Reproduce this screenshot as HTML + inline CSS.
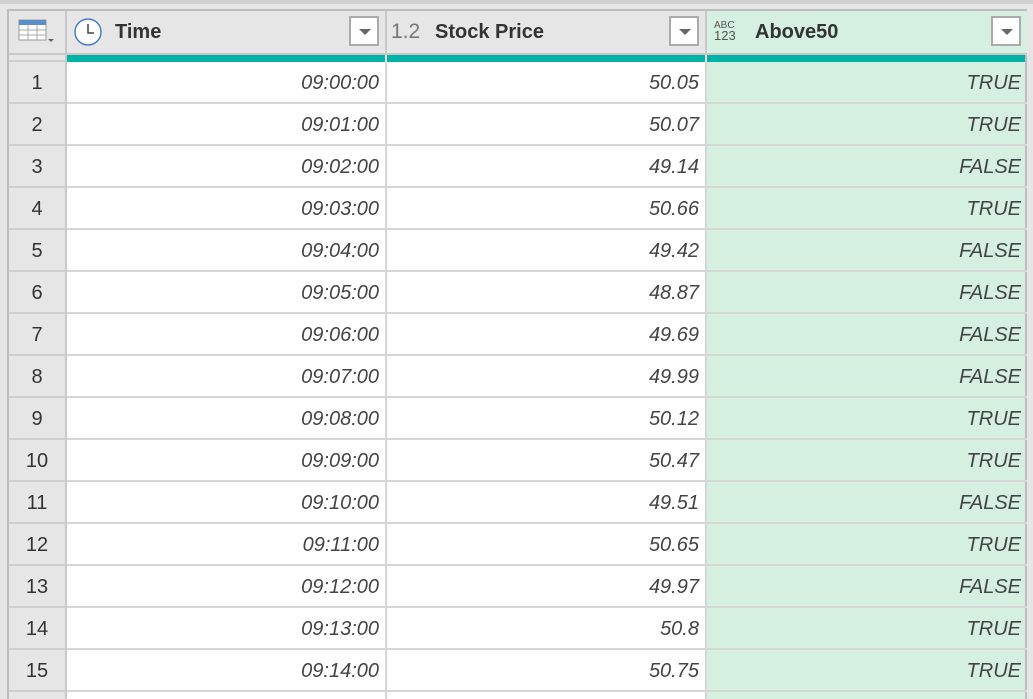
<!DOCTYPE html>
<html style="overflow:hidden;height:699px"><head><meta charset="utf-8"><style>
body{margin:0;width:1033px;height:699px;overflow:hidden;background:#e6e6e6;font-family:"Liberation Sans",sans-serif;position:relative}
.a{position:absolute;box-sizing:border-box}
.hd{top:11px;height:42px;background:#e6e6e6;border-right:2px solid #c8c8c8;font-weight:bold;font-size:20px;color:#333;line-height:42px}
.dd{position:absolute;right:6px;top:5px;width:30px;height:30px;background:#fff;border:2px solid #aaa;box-sizing:border-box}
.dd:after{content:"";position:absolute;left:8px;top:11px;border-left:6px solid transparent;border-right:6px solid transparent;border-top:6px solid #666}
.cell{height:42px;border-bottom:2px solid #d6d6d6;border-right:2px solid #d6d6d6;font-size:20px;font-style:italic;color:#444;text-align:right;padding-right:6px;line-height:42px;overflow:hidden}
.idx{height:42px;border-bottom:2px solid #cfcfcf;border-right:2px solid #c8c8c8;font-size:20px;color:#333;text-align:center;line-height:42px;background:#e6e6e6;overflow:hidden}
</style></head><body>
<div class="a" style="left:0;top:0;width:1033px;height:4px;background:#d0d0d0"></div>
<div class="a" style="left:7px;top:9px;width:1020px;height:690px;border:2px solid #bdbdbd;border-bottom:none;background:#fff"></div>
<div class="a hd" style="left:9px;width:58px">
<svg width="40" height="30" style="position:absolute;left:9px;top:8px"><rect x="1" y="1" width="27" height="20" fill="#fff" stroke="#999"/><rect x="1" y="1" width="27" height="5" fill="#5b8ec8"/><path d="M1 11H28M1 16H28M10 6V21M19 6V21" stroke="#aaa"/><path d="M30 20l3 3 3-3z" fill="#666"/></svg></div>
<div class="a hd" style="left:67px;width:320px"><svg width="32" height="32" style="position:absolute;left:5px;top:5px"><circle cx="16" cy="16" r="13" fill="#fff" stroke="#4a7fc0" stroke-width="1.5"/><path d="M16 8V17H22" stroke="#444" stroke-width="1.5" fill="none"/></svg><span style="position:absolute;left:48px">Time</span><div class="dd"></div></div>
<div class="a hd" style="left:387px;width:320px"><span style="position:absolute;left:4px;font-weight:normal;color:#777;font-size:21px">1.2</span><span style="position:absolute;left:48px">Stock Price</span><div class="dd"></div></div>
<div class="a hd" style="left:707px;width:320px;background:#d5efe0;border-right:none"><span style="position:absolute;left:7px;top:10px;font-size:10px;line-height:10px;font-weight:normal;color:#555">ABC<br><span style="font-size:13px">123</span></span><span style="position:absolute;left:48px">Above50</span><div class="dd"></div></div>
<div class="a" style="left:9px;top:53px;width:1018px;height:2px;background:#c8c8c8"></div>
<div class="a" style="left:9px;top:55px;width:58px;height:7px;background:#e6e6e6;border-right:2px solid #c8c8c8;border-bottom:2px solid #cfcfcf"></div>
<div class="a" style="left:67px;top:55px;width:318px;height:7px;background:#01b3a6"></div>
<div class="a" style="left:387px;top:55px;width:318px;height:7px;background:#01b3a6"></div>
<div class="a" style="left:707px;top:55px;width:318px;height:7px;background:#01b3a6"></div>
<div class="a" style="left:707px;top:62px;width:318px;height:637px;background:#d5efe0"></div>
<div id="rows"></div>
<script>
const times=["09:00:00","09:01:00","09:02:00","09:03:00","09:04:00","09:05:00","09:06:00","09:07:00","09:08:00","09:09:00","09:10:00","09:11:00","09:12:00","09:13:00","09:14:00"];
const prices=["50.05","50.07","49.14","50.66","49.42","48.87","49.69","49.99","50.12","50.47","49.51","50.65","49.97","50.8","50.75"];
const flags=["TRUE","TRUE","FALSE","TRUE","FALSE","FALSE","FALSE","FALSE","TRUE","TRUE","FALSE","TRUE","FALSE","TRUE","TRUE"];
const host=document.getElementById('rows');
for(let i=0;i<16;i++){
 const top=62+i*42;
 const h=Math.min(42,699-top);
 const mk=(cls,left,w,txt,bg)=>{const d=document.createElement('div');d.className='a '+cls;d.style.left=left+'px';d.style.top=top+'px';d.style.width=w+'px';d.style.height=h+'px';if(i===15)d.style.borderBottom='none';if(bg)d.style.background=bg;d.textContent=txt;host.appendChild(d);return d;};
 const r=mk('idx',9,58,i<15?String(i+1):'');
 
 
 const t=mk('cell',67,320,i<15?times[i]:'','#fff');
 
 
 const p=mk('cell',387,320,i<15?prices[i]:'','#fff');
 
 
 const f=mk('cell',707,320,i<15?flags[i]:'');
 f.style.borderRight='none';
 
 
}
</script>
</body></html>
